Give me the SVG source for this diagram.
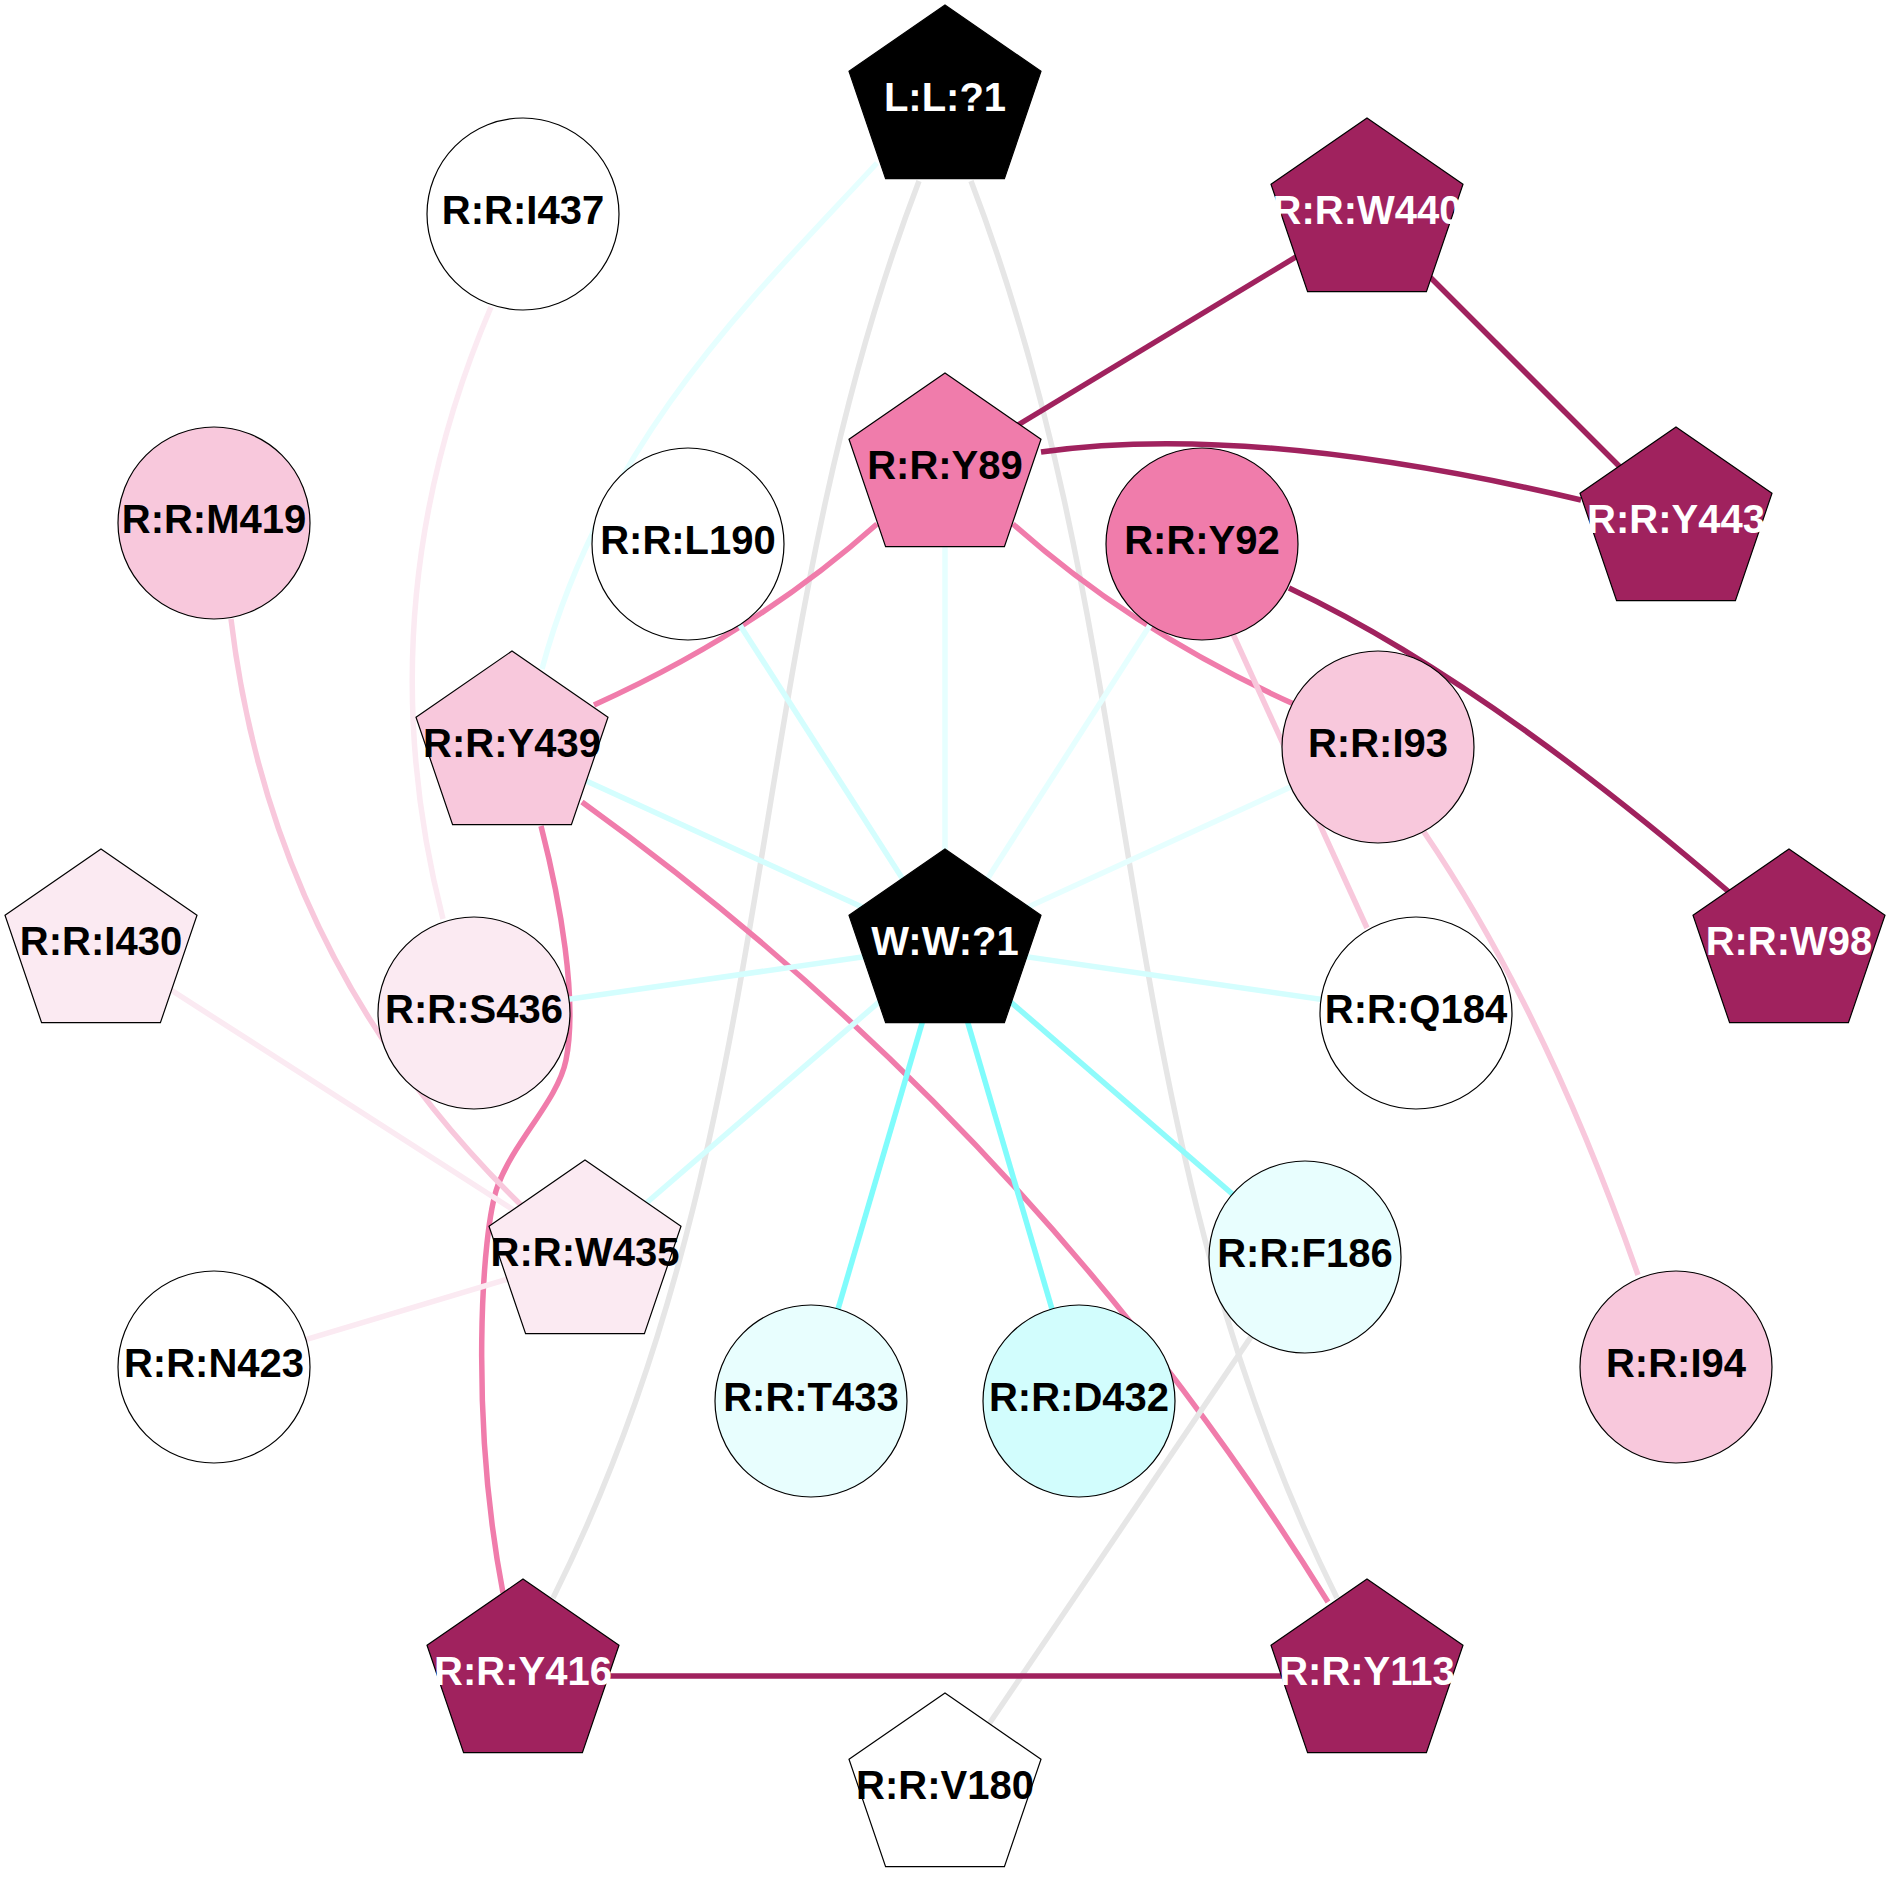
<svg xmlns="http://www.w3.org/2000/svg" width="1890" height="1890" viewBox="0 0 1890 1890">
<style>
.e{fill:none;stroke-width:5.5}
.dk{stroke:#A0225E}
.hp{stroke:#F07CAB}
.lp{stroke:#F8C8DC}
.vp{stroke:#FBEAF2}
.gr{stroke:#E6E6E6}
.cb{stroke:#80FCFC}
.cm{stroke:#8FFBFB}
.cl{stroke:#D4FEFE}
.cv{stroke:#E6FFFF}
.n{stroke:#000;stroke-width:1.2}
text{font-family:"Liberation Sans",Arial,sans-serif;font-weight:bold;font-size:40px;text-anchor:middle;fill:#000}
text.w{fill:#fff}
</style>
<rect width="1890" height="1890" fill="#fff"/>
<g id="edges">
<path class="e cv" d="M877,163 C760,290 605,435 542,669"/>
<path class="e gr" d="M919,181 C737.6,653 788.4,1126 553,1598"/>
<path class="e gr" d="M971,181 C1152.4,653 1101.6,1126 1337,1598"/>
<path class="e dk" d="M1367,214 L945,469"/>
<path class="e dk" d="M1367,214 L1676,523"/>
<path class="e dk" d="M1041,452 Q1250,422 1581,500"/>
<path class="e hp" d="M877,524 Q756,632 594,705"/>
<path class="e hp" d="M1013,524 Q1134,632 1296,705"/>
<path class="e cv" d="M945,469 L945,945"/>
<path class="e cv" d="M1202,544 L945,945"/>
<path class="e dk" d="M1289,588 Q1480,678 1729,892"/>
<path class="e lp" d="M1228,623 L1367,928"/>
<path class="e cv" d="M1378,747 L945,945"/>
<path class="e lp" d="M1424,832 Q1545,1010 1638,1275"/>
<path class="e cl" d="M688,544 L945,945"/>
<path class="e cl" d="M512,747 L945,945"/>
<path class="e hp" d="M582,802 Q1034,1128 1328,1602"/>
<path class="e hp" d="M541,826 C560,900 578,1000 566,1060 C558,1100 515,1140 498,1185 C481,1230 470,1420 503,1593"/>
<path class="e lp" d="M231,619 Q272,963 521,1205"/>
<path class="e vp" d="M491,307 Q363,607 443,919"/>
<path class="e vp" d="M101,945 L585,1256"/>
<path class="e vp" d="M214,1367 L585,1256"/>
<path class="e cl" d="M474,1013 L945,945"/>
<path class="e cl" d="M585,1256 L945,945"/>
<path class="e cb" d="M945,945 L811,1401"/>
<path class="e cb" d="M945,945 L1079,1401"/>
<path class="e cm" d="M945,945 L1305,1257"/>
<path class="e cl" d="M945,945 L1416,1013"/>
<path class="e gr" d="M1305,1257 L945,1789"/>
<path class="e dk" d="M523,1676 L1367,1676"/>
</g>
<g id="n_L1"><polygon class="n" fill="#000" points="945,5 1041,71.3 1004.4,178.7 885.6,178.7 849,71.3"/><text class="w" x="945" y="111">L:L:?1</text></g>
<g id="n_I437"><circle class="n" fill="#fff" cx="523" cy="214" r="96"/><text x="523" y="224">R:R:I437</text></g>
<g id="n_W440"><polygon class="n" fill="#A0225E" points="1367,118 1463,184.3 1426.4,291.7 1307.6,291.7 1271,184.3"/><text class="w" x="1367" y="224">R:R:W440</text></g>
<g id="n_Y89"><polygon class="n" fill="#F07CAB" points="945,373 1041,439.3 1004.4,546.7 885.6,546.7 849,439.3"/><text x="945" y="479">R:R:Y89</text></g>
<g id="n_M419"><circle class="n" fill="#F8C8DC" cx="214" cy="523" r="96"/><text x="214" y="533">R:R:M419</text></g>
<g id="n_L190"><circle class="n" fill="#fff" cx="688" cy="544" r="96"/><text x="688" y="554">R:R:L190</text></g>
<g id="n_Y92"><circle class="n" fill="#F07CAB" cx="1202" cy="544" r="96"/><text x="1202" y="554">R:R:Y92</text></g>
<g id="n_Y443"><polygon class="n" fill="#A0225E" points="1676,427 1772,493.3 1735.4,600.7 1616.6,600.7 1580,493.3"/><text class="w" x="1676" y="533">R:R:Y443</text></g>
<g id="n_Y439"><polygon class="n" fill="#F8C8DC" points="512,651 608,717.3 571.4,824.7 452.6,824.7 416,717.3"/><text x="512" y="757">R:R:Y439</text></g>
<g id="n_I93"><circle class="n" fill="#F8C8DC" cx="1378" cy="747" r="96"/><text x="1378" y="757">R:R:I93</text></g>
<g id="n_I430"><polygon class="n" fill="#FBEAF2" points="101,849 197,915.3 160.4,1022.7 41.6,1022.7 5,915.3"/><text x="101" y="955">R:R:I430</text></g>
<g id="n_S436"><circle class="n" fill="#FBEAF2" cx="474" cy="1013" r="96"/><text x="474" y="1023">R:R:S436</text></g>
<g id="n_W1"><polygon class="n" fill="#000" points="945,849 1041,915.3 1004.4,1022.7 885.6,1022.7 849,915.3"/><text class="w" x="945" y="955">W:W:?1</text></g>
<g id="n_Q184"><circle class="n" fill="#fff" cx="1416" cy="1013" r="96"/><text x="1416" y="1023">R:R:Q184</text></g>
<g id="n_W98"><polygon class="n" fill="#A0225E" points="1789,849 1885,915.3 1848.4,1022.7 1729.6,1022.7 1693,915.3"/><text class="w" x="1789" y="955">R:R:W98</text></g>
<g id="n_W435"><polygon class="n" fill="#FBEAF2" points="585,1160 681,1226.3 644.4,1333.7 525.6,1333.7 489,1226.3"/><text x="585" y="1266">R:R:W435</text></g>
<g id="n_F186"><circle class="n" fill="#E8FEFE" cx="1305" cy="1257" r="96"/><text x="1305" y="1267">R:R:F186</text></g>
<g id="n_N423"><circle class="n" fill="#fff" cx="214" cy="1367" r="96"/><text x="214" y="1377">R:R:N423</text></g>
<g id="n_T433"><circle class="n" fill="#E8FEFE" cx="811" cy="1401" r="96"/><text x="811" y="1411">R:R:T433</text></g>
<g id="n_D432"><circle class="n" fill="#D2FDFD" cx="1079" cy="1401" r="96"/><text x="1079" y="1411">R:R:D432</text></g>
<g id="n_I94"><circle class="n" fill="#F8C8DC" cx="1676" cy="1367" r="96"/><text x="1676" y="1377">R:R:I94</text></g>
<g id="n_Y416"><polygon class="n" fill="#A0225E" points="523,1579 619,1645.3 582.4,1752.7 463.6,1752.7 427,1645.3"/><text class="w" x="523" y="1685">R:R:Y416</text></g>
<g id="n_Y113"><polygon class="n" fill="#A0225E" points="1367,1579 1463,1645.3 1426.4,1752.7 1307.6,1752.7 1271,1645.3"/><text class="w" x="1367" y="1685">R:R:Y113</text></g>
<g id="n_V180"><polygon class="n" fill="#fff" points="945,1693 1041,1759.3 1004.4,1866.7 885.6,1866.7 849,1759.3"/><text x="945" y="1799">R:R:V180</text></g>
</svg>
